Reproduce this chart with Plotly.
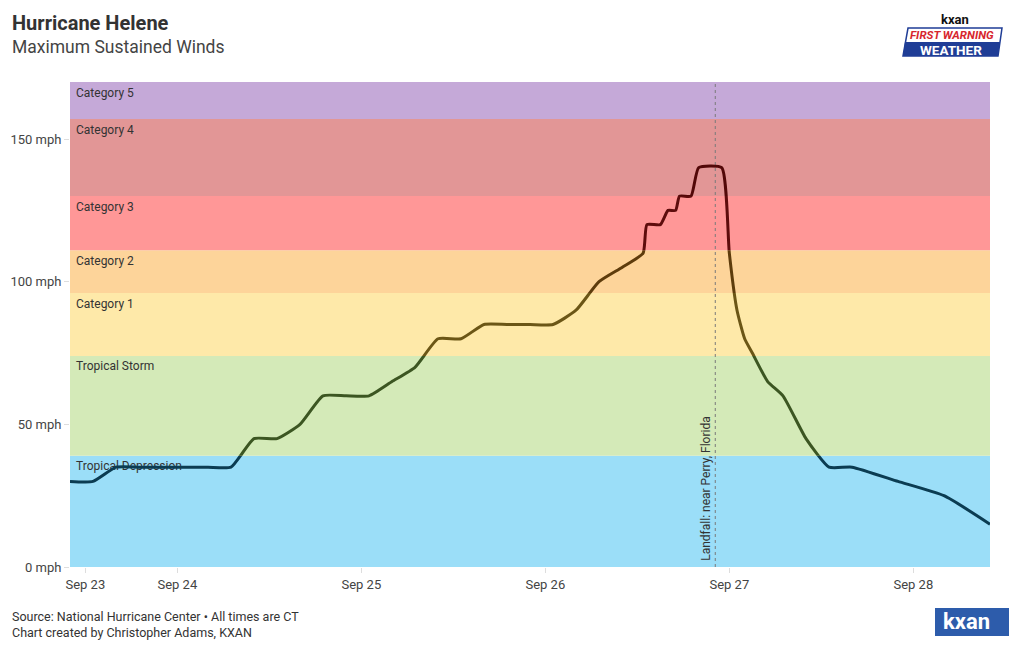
import plotly.graph_objects as go
import pandas as pd

# ---------------- data ----------------
times = [
    "2024-09-23 10:00", "2024-09-23 13:00", "2024-09-23 16:00", "2024-09-23 19:00",
    "2024-09-23 22:00", "2024-09-24 01:00", "2024-09-24 04:00", "2024-09-24 07:00",
    "2024-09-24 10:00", "2024-09-24 13:00", "2024-09-24 16:00", "2024-09-24 19:00",
    "2024-09-24 22:00", "2024-09-25 01:00", "2024-09-25 04:00", "2024-09-25 07:00",
    "2024-09-25 10:00", "2024-09-25 13:00", "2024-09-25 16:00", "2024-09-25 19:00",
    "2024-09-25 22:00", "2024-09-26 01:00", "2024-09-26 04:00", "2024-09-26 07:00",
    "2024-09-26 10:00", "2024-09-26 12:45", "2024-09-26 13:15", "2024-09-26 15:00",
    "2024-09-26 16:00", "2024-09-26 17:00", "2024-09-26 17:30", "2024-09-26 19:00",
    "2024-09-26 20:00", "2024-09-26 23:00", "2024-09-27 00:00", "2024-09-27 01:00",
    "2024-09-27 02:00", "2024-09-27 03:00", "2024-09-27 05:00", "2024-09-27 07:00",
    "2024-09-27 10:00", "2024-09-27 13:00", "2024-09-27 16:00", "2024-09-27 22:00",
    "2024-09-28 04:00", "2024-09-28 10:00",
]
winds_mph = [
    30, 30, 35, 35,
    35, 35, 35, 35,
    45, 45, 50, 60,
    60, 60, 65, 70,
    80, 80, 85, 85,
    85, 85, 90, 100,
    105, 110, 120, 120,
    125, 125, 130, 130,
    140, 140, 110, 90,
    80, 75, 65, 60,
    45, 35, 35, 30,
    25, 15,
]

band_names = ["Tropical Depression", "Tropical Storm", "Category 1", "Category 2",
              "Category 3", "Category 4", "Category 5"]
band_low = [0, 39, 74, 96, 111, 130, 157]
band_high = [39, 74, 96, 111, 130, 157, 170]

x_tick_vals = ["2024-09-23 12:00", "2024-09-24", "2024-09-25", "2024-09-26",
               "2024-09-27", "2024-09-28"]
x_tick_text = ["Sep 23", "Sep 24", "Sep 25", "Sep 26", "Sep 27", "Sep 28"]
y_tick_vals = [0, 50, 100, 150]
y_tick_text = ["0 mph", "50 mph", "100 mph", "150 mph"]

landfall_time = "2024-09-26 22:10"
landfall_label = "Landfall: near Perry, Florida"
x_range = ["2024-09-23 10:00", "2024-09-28 10:00"]
y_max = 170

# ---------------- styles ----------------
band_fill = ["#9bdef8", "#d4eab8", "#fee9a9", "#fdd49a", "#ff9797", "#e29696", "#c5a9d8"]
band_line = ["#0b3c52", "#3c5622", "#6b5616", "#5e3c0c", "#5e0c0c", "#520808", "#4a2a5a"]
FONT = "Roboto"

OFF = 8  # page body margin of the browser
W, H = 1020 - OFF, 650 - OFF
ML, MT = 70 - OFF, 82 - OFF
MR, MB = 30, 83
PW, PH = W - ML - MR, H - MT - MB

# label inset inside each band (pixel inset converted to axis units)
x0 = pd.Timestamp(x_range[0])
span_ms = (pd.Timestamp(x_range[1]) - x0)
label_x = x0 + span_ms * (6.0 / PW)
label_dy = 5.5 * y_max / PH


def px_x(px):
    return (px - OFF - ML) / PW


def px_y(py):
    return (H - MB - (py - OFF)) / PH


fig = go.Figure()

# band labels as a text trace (drawn beneath the wind line)
fig.add_trace(go.Scatter(
    x=[label_x] * len(band_names), y=[h - label_dy for h in band_high], text=band_names,
    mode="text", textposition="bottom right",
    textfont=dict(family=FONT, size=12, color="#333"),
    hoverinfo="skip", showlegend=False, xaxis="x", yaxis="y", cliponaxis=False,
))

# wind line, one copy per band, each clipped to its band by its own y axis
for i, (lo, hi) in enumerate(zip(band_low, band_high)):
    ax = f"y{i + 2}"
    fig.add_trace(go.Scatter(
        x=times, y=winds_mph, mode="lines",
        line=dict(color=band_line[i], width=3, shape="spline", smoothing=0.5),
        hoverinfo="skip", showlegend=False, xaxis="x", yaxis=ax,
    ))
    fig.layout[f"yaxis{i + 2}"] = dict(
        domain=[lo / y_max, hi / y_max], range=[lo, hi], visible=False,
        fixedrange=True, anchor="x", showgrid=False, zeroline=False,
    )

shapes = []
for i, (lo, hi) in enumerate(zip(band_low, band_high)):
    shapes.append(dict(type="rect", xref="x domain", yref="y", x0=0, x1=1, y0=lo, y1=hi,
                       fillcolor=band_fill[i], line=dict(width=0), layer="below"))
shapes.append(dict(type="line", xref="x", yref="y domain", x0=landfall_time, x1=landfall_time,
                   y0=0, y1=1, line=dict(color="#7a7a7a", width=1, dash="dot"), layer="below"))

# logos (drawn)
shapes.append(dict(type="path", xref="paper", yref="paper",
                   path=f"M {px_x(908)} {px_y(28)} L {px_x(1002)} {px_y(28)} L {px_x(998)} {px_y(56)} L {px_x(903)} {px_y(56)} Z",
                   fillcolor="white", line=dict(color="#1f3d96", width=1.5), layer="above"))
shapes.append(dict(type="path", xref="paper", yref="paper",
                   path=f"M {px_x(905)} {px_y(42)} L {px_x(1000)} {px_y(42)} L {px_x(998)} {px_y(56)} L {px_x(903)} {px_y(56)} Z",
                   fillcolor="#1f3d96", line=dict(width=0), layer="above"))
shapes.append(dict(type="rect", xref="paper", yref="paper",
                   x0=px_x(935), x1=px_x(1009), y0=px_y(636), y1=px_y(608),
                   fillcolor="#2d5cab", line=dict(width=0), layer="above"))

annotations = [
    dict(text="<b>Hurricane Helene</b>", x=px_x(10), y=px_y(23), xref="paper", yref="paper",
         xanchor="left", yanchor="middle", showarrow=False,
         font=dict(family=FONT, size=20, color="#333")),
    dict(text="Maximum Sustained Winds", x=px_x(10), y=px_y(47), xref="paper", yref="paper",
         xanchor="left", yanchor="middle", showarrow=False,
         font=dict(family=FONT, size=17.5, color="#444")),
    dict(text="Source: National Hurricane Center • All times are CT", x=px_x(10), y=px_y(616),
         xref="paper", yref="paper", xanchor="left", yanchor="middle", showarrow=False,
         font=dict(family=FONT, size=12.5, color="#333")),
    dict(text="Chart created by Christopher Adams, KXAN", x=px_x(10), y=px_y(632),
         xref="paper", yref="paper", xanchor="left", yanchor="middle", showarrow=False,
         font=dict(family=FONT, size=12.5, color="#333")),
    dict(text=landfall_label, x=landfall_time, y=0, xref="x", yref="y",
         xanchor="right", yanchor="bottom", textangle=-90, showarrow=False,
         xshift=-1, yshift=4, font=dict(family=FONT, size=12, color="#333")),
    dict(text="<b>kxan</b>", x=px_x(955), y=px_y(19), xref="paper", yref="paper",
         xanchor="center", yanchor="middle", showarrow=False,
         font=dict(family=FONT, size=13, color="#111")),
    dict(text="<b><i>FIRST WARNING</i></b>", x=px_x(952), y=px_y(35), xref="paper", yref="paper",
         xanchor="center", yanchor="middle", showarrow=False, borderpad=0,
         font=dict(family=FONT, size=11.5, color="#d7262e")),
    dict(text="<b>WEATHER</b>", x=px_x(951), y=px_y(49.5), xref="paper", yref="paper",
         xanchor="center", yanchor="middle", showarrow=False, borderpad=0,
         font=dict(family=FONT, size=13.5, color="white")),
    dict(text="<b>kxan</b>", x=px_x(966), y=px_y(621), xref="paper", yref="paper",
         xanchor="center", yanchor="middle", showarrow=False,
         font=dict(family=FONT, size=22, color="white")),
]

fig.update_layout(
    width=W, height=H,
    margin=dict(l=ML, r=MR, t=MT, b=MB, autoexpand=False),
    paper_bgcolor="white", plot_bgcolor="rgba(0,0,0,0)",
    showlegend=False, hovermode=False,
    font=dict(family=FONT, color="#444"),
    xaxis=dict(type="date", range=x_range, tickvals=x_tick_vals, ticktext=x_tick_text,
               ticks="outside", ticklen=5, tickcolor="#dddddd", showgrid=False,
               zeroline=False, showline=False, fixedrange=True, automargin=False,
               tickfont=dict(family=FONT, size=13, color="#444"), anchor="y"),
    yaxis=dict(range=[0, y_max], tickvals=y_tick_vals, ticktext=y_tick_text,
               ticks="outside", ticklen=5, tickcolor="#dddddd", showgrid=False,
               zeroline=False, showline=False, fixedrange=True, automargin=False,
               tickfont=dict(family=FONT, size=13, color="#444"), domain=[0, 1]),
    shapes=shapes,
    annotations=annotations,
)

fig.write_html("out.html")
